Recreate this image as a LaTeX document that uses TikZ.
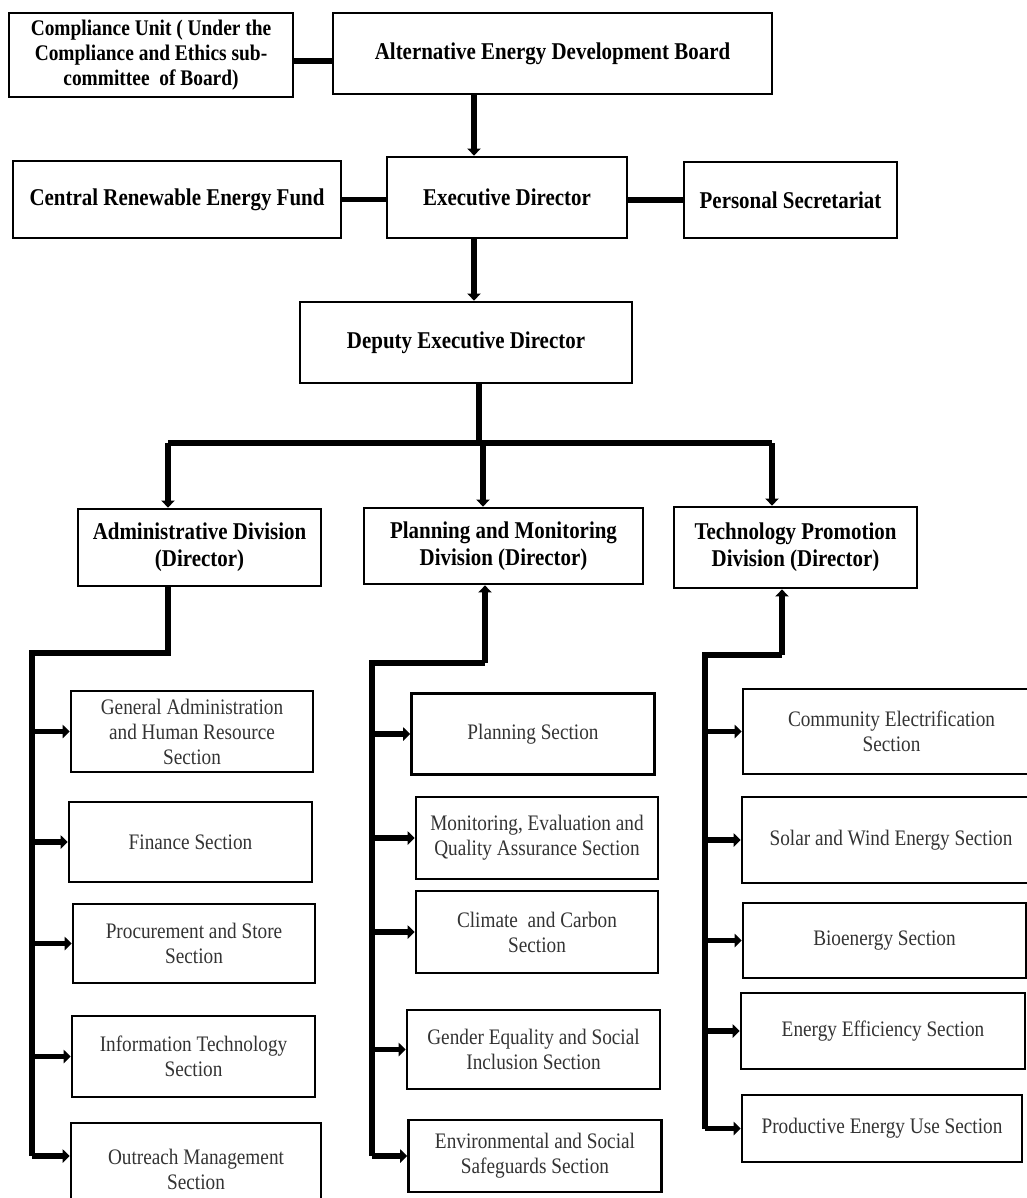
\documentclass[tikz,border=0pt]{standalone}
\usepackage{fontspec}
\setmainfont{Liberation Serif}[FakeStretch=0.87]
\usetikzlibrary{arrows.meta}

\begin{document}
\begin{tikzpicture}[x=0.02cm, y=-0.02cm,
    headbox/.style={draw, line width=1.6pt, align=center, inner sep=2pt,
        font=\fontsize{13.7}{15.3}\selectfont\bfseries},
    sectbox/.style={draw, line width=1.5pt, align=center, inner sep=2pt, text=black!80,
        font=\fontsize{12.6}{14.2}\selectfont},
    conn/.style={line width=3pt},
    conarr/.style={conn, -{Triangle[length=4pt,width=7.5pt]}}]
    \useasboundingbox (0,0) rectangle (1027,1198);
    \clip (0,0) rectangle (1027,1198);

    % Board and directors
    \node[headbox, minimum width=5.68cm, minimum height=1.68cm,
        font=\fontsize{12.7}{14.2}\selectfont\bfseries] (cu) at (151,55)
        {Compliance Unit ( Under the\\ Compliance and Ethics sub-\\ committee \ of Board)};
    \node[headbox, minimum width=8.78cm, minimum height=1.62cm] (aedb) at (552.5,53.5) {Alternative Energy Development Board};
    \node[headbox, minimum width=4.8cm, minimum height=1.62cm] (ed) at (507,197.5) {Executive Director};
    \node[headbox, minimum width=6.56cm, minimum height=1.54cm] (cref) at (177,199.5) {Central Renewable Energy Fund};
    \node[headbox, minimum width=4.26cm, minimum height=1.52cm] (ps) at (790.5,200) {Personal Secretariat};
    \node[headbox, minimum width=6.64cm, minimum height=1.62cm] (ded) at (466,342.5) {Deputy Executive Director};

    \draw[conn] ([yshift=-0.12cm]cu.east) -- ([yshift=-0.12cm]cu.east -| aedb.west);
    \draw[conarr] ([xshift=-0.66cm]ed.north |- aedb.south) -- ([xshift=-0.66cm]ed.north);
    \draw[conn] (cref.east) -- (cref.east -| ed.west);
    \draw[conn] (ed.east |- ps.west) -- (ps.west);
    \draw[conarr] ([xshift=-0.66cm]ed.south) -- ([xshift=-0.66cm]ed.south |- ded.north);

    % Divisions
    \node[headbox, minimum width=4.86cm, minimum height=1.54cm] (adm) at (199.5,547.5) {Administrative Division\\ (Director)};
    \node[headbox, minimum width=5.58cm, minimum height=1.52cm] (pmd) at (503.5,546) {Planning and Monitoring\\ Division (Director)};
    \node[headbox, minimum width=4.86cm, minimum height=1.62cm] (tpd) at (795.5,547.5) {Technology Promotion\\ Division (Director)};

    \coordinate (bus) at (479,443);
    \coordinate (busL) at (168,443);
    \coordinate (busR) at (772,443);
    \draw[conn] (bus |- ded.south) -- (bus);
    \draw[conn] (busL) -- (busR);
    \draw[conarr] (busL) -- (busL |- adm.north);
    \draw[conarr] ([xshift=0.08cm]bus) -- ([xshift=0.08cm]bus |- pmd.north);
    \draw[conarr] (busR) -- (busR |- tpd.north);

    % Administrative sections
    \node[sectbox, minimum width=4.84cm, minimum height=1.62cm] (gas) at (192,731.5) {General Administration\\ and Human Resource\\ Section};
    \node[sectbox, minimum width=4.86cm, minimum height=1.6cm] (fin) at (190.5,842) {Finance Section};
    \node[sectbox, minimum width=4.84cm, minimum height=1.58cm] (pro) at (194,943.5) {Procurement and Store\\ Section};
    \node[sectbox, minimum width=4.86cm, minimum height=1.62cm] (its) at (193.5,1056.5) {Information Technology\\ Section};
    \node[sectbox, minimum width=5cm, minimum height=1.84cm] (oms) at (196,1169) {Outreach Management\\ Section};

    \coordinate (admK) at (168,653);
    \coordinate (admT) at (32,653);
    \coordinate (admB) at (32,1156);
    \draw[conn] (admK |- adm.south) -- (admK) -- (admT) -- (admB);
    \foreach \s in {gas,fin,pro,its}
        \draw[conarr] (admT |- \s.west) -- (\s.west);
    \draw[conarr] (admB) -- (admB -| oms.west);

    % Planning sections
    \node[sectbox, minimum width=4.86cm, minimum height=1.62cm] (pls) at (533,734) {Planning Section};
    \node[sectbox, minimum width=4.84cm, minimum height=1.64cm] (mes) at (537,838) {Monitoring, Evaluation and\\ Quality Assurance Section};
    \node[sectbox, minimum width=4.84cm, minimum height=1.64cm] (ccs) at (537,932) {Climate \ and Carbon\\ Section};
    \node[sectbox, minimum width=5.06cm, minimum height=1.58cm] (ges) at (533.5,1049.5) {Gender Equality and Social\\ Inclusion Section};
    \node[sectbox, minimum width=5.06cm, minimum height=1.44cm] (ess) at (535,1156) {Environmental and Social\\ Safeguards Section};

    \coordinate (pmdK) at (485,663);
    \coordinate (pmdT) at (372,663);
    \draw[conarr] (pmdK) -- (pmdK |- pmd.south);
    \draw[conn] (pmdK) -- (pmdT) -- (pmdT |- ess.west);
    \foreach \s in {pls,mes,ccs,ges,ess}
        \draw[conarr] (pmdT |- \s.west) -- (\s.west);

    % Technology sections
    \node[sectbox, minimum width=5.94cm, minimum height=1.7cm] (ces) at (891.5,731.5) {Community Electrification\\ Section};
    \node[sectbox, minimum width=5.96cm, minimum height=1.72cm] (sws) at (891,840) {Solar and Wind Energy Section};
    \node[sectbox, minimum width=5.66cm, minimum height=1.5cm] (bes) at (884.5,940.5) {Bioenergy Section};
    \node[sectbox, minimum width=5.68cm, minimum height=1.52cm] (ees) at (883,1031) {Energy Efficiency Section};
    \node[sectbox, minimum width=5.6cm, minimum height=1.34cm] (pes) at (882,1128.5) {Productive Energy Use Section};

    \coordinate (tpdK) at (782,655);
    \coordinate (tpdT) at (705,655);
    \draw[conarr] (tpdK) -- (tpdK |- tpd.south);
    \draw[conn] (tpdK) -- (tpdT) -- (tpdT |- pes.west);
    \foreach \s in {ces,sws,bes,ees,pes}
        \draw[conarr] (tpdT |- \s.west) -- (\s.west);
\end{tikzpicture}
\end{document}
